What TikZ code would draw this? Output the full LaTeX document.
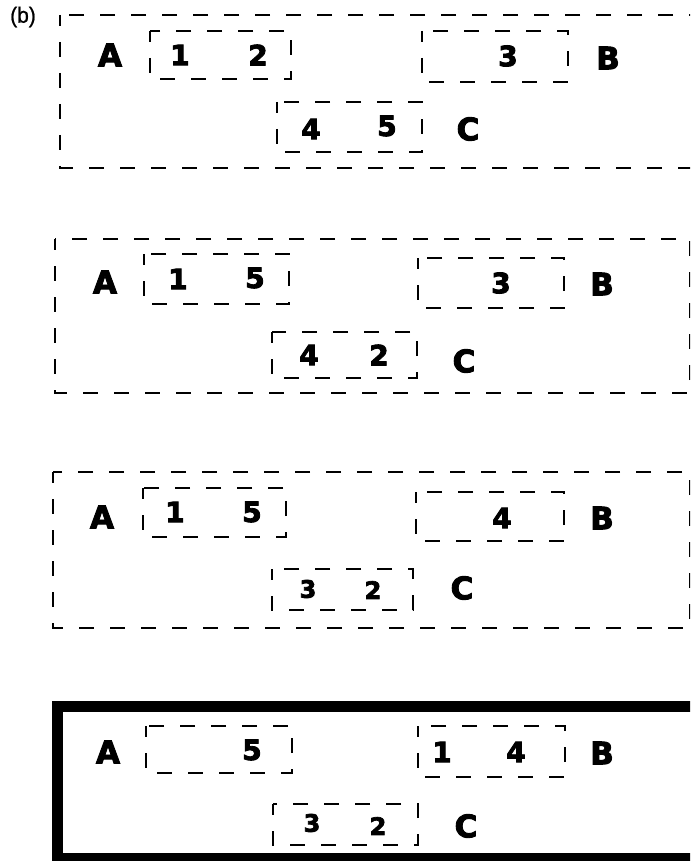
\documentclass[tikz,border=0pt]{standalone}
\usepackage{fontspec}
\setmainfont{DejaVu Sans}
\newfontfamily\heavyfont[FakeBold=3]{DejaVu Sans Bold}
\newfontfamily\tagfont[FakeBold=1]{Liberation Sans}
\begin{document}
\begin{tikzpicture}[x=1pt,y=-1pt,
  outer/.style={line width=2.8pt, dash pattern=on 15pt off 16pt, dash phase=4pt},
  inner/.style={line width=2.8pt, dash pattern=on 15pt off 16pt, dash phase=4pt},
  thickbox/.style={line width=11pt},
  lett/.style={font=\heavyfont\fontsize{31}{31}\selectfont, inner sep=0pt},
  digit/.style={font=\heavyfont\fontsize{28}{28}\selectfont, inner sep=0pt},
  sdigit/.style={font=\heavyfont\fontsize{24}{24}\selectfont, inner sep=0pt},
  tag/.style={font=\tagfont\fontsize{22}{22}\selectfont, inner sep=0pt, xscale=0.95},
]
\useasboundingbox (0,0) rectangle (690,861);
\clip (0,0) rectangle (690,861);
\fill[white] (0,0) rectangle (690,861);

\node[tag] (tagb) at (23,17) {(b)};

% ---------- panel 1 ----------
\draw[outer] (60,15) rectangle (692,168);
\draw[inner] (150,31) rectangle (291,79);
\draw[inner] (422,31) rectangle (568,82);
\draw[inner] (277,102) rectangle (422,152);
\node[lett] (p1A) at (110,55) {A};
\node[digit] (p1n1) at (180,55) {1};
\node[digit] (p1n2) at (258,55) {2};
\node[digit] (p1n3) at (508,56) {3};
\node[lett] (p1B) at (608,58) {B};
\node[digit] (p1n4) at (311,129) {4};
\node[digit] (p1n5) at (387,126) {5};
\node[lett] (p1C) at (468,129) {C};

% ---------- panel 2 ----------
\draw[outer] (55,239) rectangle (690,393);
\draw[inner] (144,254) rectangle (289,304);
\draw[inner] (418,258) rectangle (564,308);
\draw[inner] (272,332) rectangle (417,378);
\node[lett] (p2A) at (105,282) {A};
\node[digit] (p2n1) at (178,279) {1};
\node[digit] (p2n5) at (255,278) {5};
\node[digit] (p2n3) at (501,283) {3};
\node[lett] (p2B) at (602,284) {B};
\node[digit] (p2n4) at (309,355) {4};
\node[digit] (p2n2) at (379,355) {2};
\node[lett] (p2C) at (464,361) {C};

% ---------- panel 3 ----------
\draw[outer] (53,472) rectangle (690,628);
\draw[inner] (143,488) rectangle (286,537);
\draw[inner] (416,492) rectangle (564,541);
\draw[inner] (272,569) rectangle (413,610);
\node[lett] (p3A) at (102,517) {A};
\node[digit] (p3n1) at (175,512) {1};
\node[digit] (p3n5) at (252,512) {5};
\node[digit] (p3n4) at (502,518) {4};
\node[lett] (p3B) at (602,518) {B};
\node[sdigit] (p3n3) at (308,589) {3};
\node[sdigit] (p3n2) at (373,590) {2};
\node[lett] (p3C) at (462,588) {C};

% ---------- panel 4 ----------
\draw[thickbox] (57,706) rectangle (705,858);
\draw[inner] (146,726) rectangle (292,773);
\draw[inner] (418,726) rectangle (565,777);
\draw[inner] (273,804) rectangle (418,845);
\node[lett] (p4A) at (108,752) {A};
\node[digit] (p4n5) at (252,750) {5};
\node[digit] (p4n1) at (442,752) {1};
\node[digit] (p4n4) at (516,752) {4};
\node[lett] (p4B) at (602,753) {B};
\node[sdigit] (p4n3) at (312,823) {3};
\node[sdigit] (p4n2) at (378,826) {2};
\node[lett] (p4C) at (466,826) {C};
\end{tikzpicture}
\end{document}
